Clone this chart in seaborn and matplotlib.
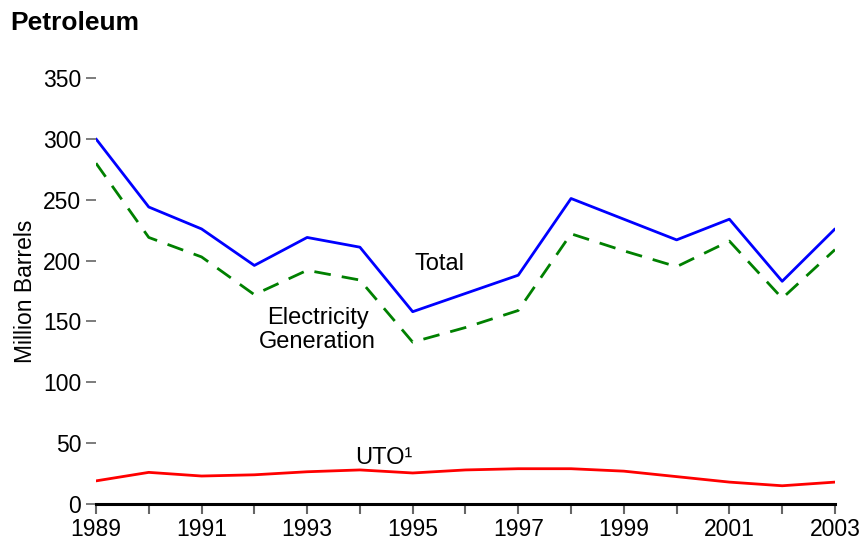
import numpy as np
import pandas as pd
import seaborn as sns
import matplotlib.pyplot as plt

sns.set_style("white")
plt.rcParams['font.family'] = ['Liberation Sans', 'DejaVu Sans']
plt.rcParams['text.color'] = 'black'
plt.rcParams['axes.labelcolor'] = 'black'
plt.rcParams['xtick.labelcolor'] = 'black'
plt.rcParams['ytick.labelcolor'] = 'black'

# values (million barrels)
years = list(range(1989, 2004))
total = [300, 244, 226, 196, 219, 211, 158, 173, 188, 251, 234, 217, 234, 183, 226]
electricity = [280, 219, 203, 172, 192, 184, 133, 145, 159, 222, 208, 195, 216, 169, 209]
uto = [19, 26, 23, 24, 26.5, 28, 25.5, 28, 29, 29, 27, 22.5, 18, 15, 18]

df = pd.DataFrame({'Year': years, 'Total': total,
                   'Electricity Generation': electricity, 'UTO': uto})

fig = plt.figure(figsize=(8.6, 5.45), dpi=100)
ax = fig.add_axes([0.1116, 0.0752, 0.8593, 0.7817])

sns.lineplot(data=df, x='Year', y='Total', color='#0000ff', lw=2, ax=ax)
sns.lineplot(data=df, x='Year', y='Electricity Generation', color='#008000',
             lw=2, ax=ax)
ax.lines[-1].set_dashes([6, 4])
sns.lineplot(data=df, x='Year', y='UTO', color='#ff0000', lw=2, ax=ax)

ax.set_xlim(1989, 2003)
ax.set_ylim(0, 350)
ax.set_xticks(years)
ax.set_xticklabels([str(y) if (y - 1989) % 2 == 0 else '' for y in years])
ax.set_yticks(range(0, 351, 50))

for s in ['top', 'right', 'left']:
    ax.spines[s].set_visible(False)
ax.spines['bottom'].set_linewidth(2.2)
ax.spines['bottom'].set_color('black')

ax.tick_params(axis='x', direction='out', length=7.2, width=1.5, color='#666666',
               labelsize=16.5, pad=3, bottom=True)
ax.tick_params(axis='y', direction='out', length=7.2, width=1.2, color='#666666',
               labelsize=16.5, pad=3.5, left=True)

ax.set_xlabel('')
ax.set_ylabel('Million Barrels', fontsize=16.5, labelpad=4)

ax.text(1995.5, 197, 'Total', fontsize=17, ha='center', va='center')
ax.text(1993.2, 143, 'Electricity\nGeneration', fontsize=17, ha='center',
        va='center', linespacing=1.08)
ax.text(1994.45, 38, 'UTO¹', fontsize=17, ha='center', va='center')

fig.text(0.012, 0.958, 'Petroleum', fontsize=19, fontweight='bold',
         ha='left', va='center')

fig.savefig('out.png', dpi=100)
